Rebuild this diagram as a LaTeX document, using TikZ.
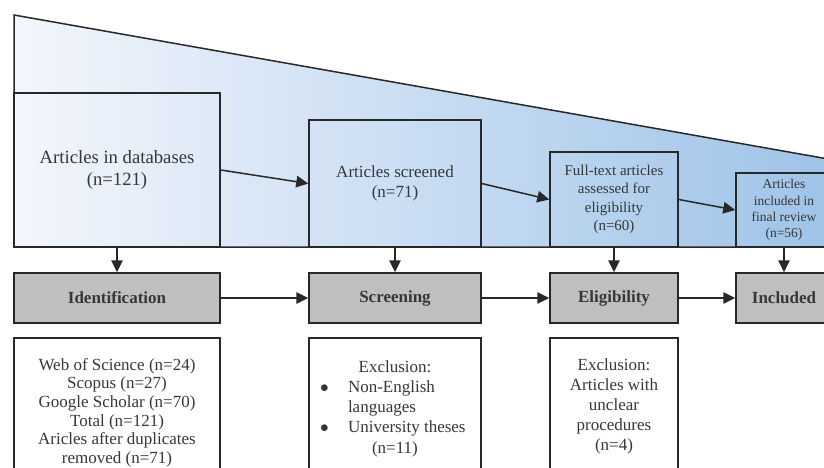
\documentclass[tikz,border=0pt]{standalone}
\usepackage{fontspec}
\setmainfont{Liberation Serif}
\usetikzlibrary{arrows.meta}
\usetikzlibrary{positioning}
\definecolor{txtgray}{RGB}{55,55,55}
\definecolor{linegray}{RGB}{40,40,40}
\definecolor{fadeleft}{RGB}{243,246,252}
\definecolor{faderight}{RGB}{158,195,232}
\definecolor{stagegray}{RGB}{191,191,191}
\tikzstyle{stagebox} = [draw=linegray, line width=1.5pt, inner sep=0, text=txtgray, align=center]
\tikzstyle{phase} = [draw=linegray, line width=1.5pt, fill=stagegray, minimum height=50pt, inner sep=0, text=txtgray, font=\fontsize{17}{19}\selectfont\bfseries]
\tikzstyle{listbox} = [draw=linegray, line width=1.5pt, anchor=north, minimum height=160pt, inner sep=0]
\tikzstyle{listtext} = [inner sep=0, align=center, text=txtgray, font=\fontsize{17}{20.2}\selectfont]
\tikzstyle{arrow} = [-{Triangle[length=12pt,width=11.5pt]}, draw=linegray, line width=1.5pt]

\begin{document}
\begin{tikzpicture}[x=1pt,y=-1pt]
	\clip (0,0) rectangle (824,468);
	\shadedraw[left color=fadeleft, right color=faderight, draw=linegray, line width=1.5pt]
		(14,15) -- (834,160) -- (834,247) -- (14,247) -- cycle;

	\node (dbbox)  [stagebox, minimum width=206pt, minimum height=154pt, font=\fontsize{18.7}{22}\selectfont] at (117,170) {Articles in databases\\(n=121)};
	\node (scrbox) [stagebox, minimum width=172pt, minimum height=127pt, font=\fontsize{17}{20}\selectfont] at (395,183.5) {Articles screened\\(n=71)};
	\node (elbox)  [stagebox, minimum width=128pt, minimum height=95pt, font=\fontsize{15}{18.3}\selectfont] at (614,199.5) {Full-text articles\\assessed for\\eligibility\\(n=60)};
	\node (inbox)  [stagebox, minimum width=96pt, minimum height=74pt, font=\fontsize{13.5}{16.3}\selectfont] at (784,210) {Articles\\included in\\final review\\(n=56)};

	\node (ident)  [phase, minimum width=206pt] at (117,298) {Identification};
	\node (screen) [phase, minimum width=172pt] at (395,298) {Screening};
	\node (elig)   [phase, minimum width=128pt] at (614,298) {Eligibility};
	\node (incl)   [phase, minimum width=96pt]  at (784,298) {Included};

	\node (idlist)  [listbox, minimum width=206pt] at (117,337) {};
	\node (scrlist) [listbox, minimum width=172pt] at (395,337) {};
	\node (ellist)  [listbox, minimum width=128pt] at (614,337) {};

	\node (idtext) [listtext, font=\fontsize{17}{18.7}\selectfont, below=21pt of idlist.north] {Web of Science (n=24)\\Scopus (n=27)\\Google Scholar (n=70)\\Total (n=121)\\Aricles after duplicates\\removed (n=71)};
	\node (scrtext) [listtext, below=21pt of scrlist.north] {\begin{tabular}{@{}p{28pt}@{}p{122pt}@{}}
		\multicolumn{2}{c}{Exclusion:}\\
		$\bullet$ & Non-English\\
		 & languages\\
		$\bullet$ & University theses\\
		 & \hspace{24pt}(n=11)
	\end{tabular}};
	\node (eltext) [listtext, below=21pt of ellist.north] {Exclusion:\\Articles with\\unclear\\procedures\\(n=4)};

	\draw[arrow] (dbbox.east) -- (scrbox.west);
	\draw[arrow] (scrbox.east) -- (elbox.west);
	\draw[arrow] (elbox.east) -- (inbox.west);

	\draw[arrow] (dbbox.south) -- (ident.north);
	\draw[arrow] (scrbox.south) -- (screen.north);
	\draw[arrow] (elbox.south) -- (elig.north);
	\draw[arrow] (inbox.south) -- (incl.north);

	\draw[arrow] (ident) -- (screen);
	\draw[arrow] (screen) -- (elig);
	\draw[arrow] (elig) -- (incl);
\end{tikzpicture}
\end{document}
